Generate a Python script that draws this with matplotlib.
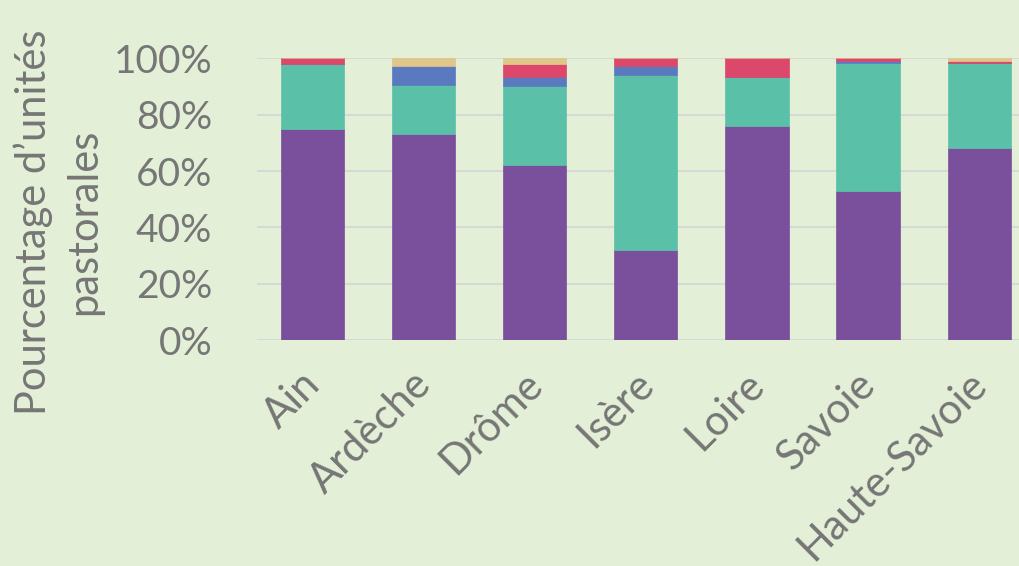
import numpy as np
import matplotlib.pyplot as plt
import matplotlib.transforms as mtransforms
from matplotlib.ticker import PercentFormatter

departements = ["Ain", "Ardèche", "Drôme", "Isère", "Loire", "Savoie", "Haute-Savoie"]
# parts (%) of each category, bottom to top
violet = [75, 73, 62, 32, 76, 53, 68]
vert = [23, 17.4, 28.3, 62.2, 17.3, 45.3, 30.3]
bleu = [0, 6.8, 3.0, 2.9, 0, 0.8, 0]
rouge = [2, 0, 4.8, 2.9, 6.7, 0.9, 0.9]
jaune = [0, 2.8, 1.9, 0, 0, 0, 0.8]

series = [violet, vert, bleu, rouge, jaune]
couleurs = ["#7A4F9C", "#5AC1A8", "#5A7ABF", "#DC476C", "#DFC68A"]

bg = "#E3EFD6"
txt = "#767676"

plt.rcParams['font.family'] = ['Lato', 'DejaVu Sans']

fig = plt.figure(figsize=(10.19, 5.66), dpi=100, facecolor=bg)
ax = fig.add_axes([0.252, 0.399, 0.7635, 0.498])
ax.set_facecolor(bg)

x = np.arange(len(departements))
bas = np.zeros(len(departements))
for vals, c in zip(series, couleurs):
    v = np.array(vals) / 100
    ax.bar(x, v, 0.57, bottom=bas, color=c, edgecolor=c, linewidth=0.5, zorder=3)
    bas += v

ax.set_xlim(-0.5, len(departements) - 0.5)
ax.set_ylim(0, 1)
ax.set_yticks(np.arange(0, 1.01, 0.2))
ax.yaxis.set_major_formatter(PercentFormatter(1.0, decimals=0))
ax.grid(axis='y', color='#D6D9D6', linewidth=1.5, zorder=0)
for s in ax.spines.values():
    s.set_visible(False)
ax.tick_params(axis='both', length=0, labelsize=28, labelcolor=txt)
ax.tick_params(axis='y', pad=32)
ax.set_xticks(x)
ax.set_xticklabels(departements, rotation=45, ha='right', rotation_mode='anchor', fontsize=30)
ax.tick_params(axis='x', pad=22)
# nudge the rotated labels a bit left/up (pixels at dpi 100)
decal = mtransforms.ScaledTranslation(-12 / 100, 6 / 100, fig.dpi_scale_trans)
for lab in ax.get_xticklabels():
    lab.set_transform(lab.get_transform() + decal)

ax.set_ylabel("Pourcentage d’unités\npastorales", fontsize=30, color=txt, linespacing=1.4)
ax.yaxis.set_label_coords(-0.197, 0.42)

fig.savefig("out.png", dpi=100, facecolor=bg)
